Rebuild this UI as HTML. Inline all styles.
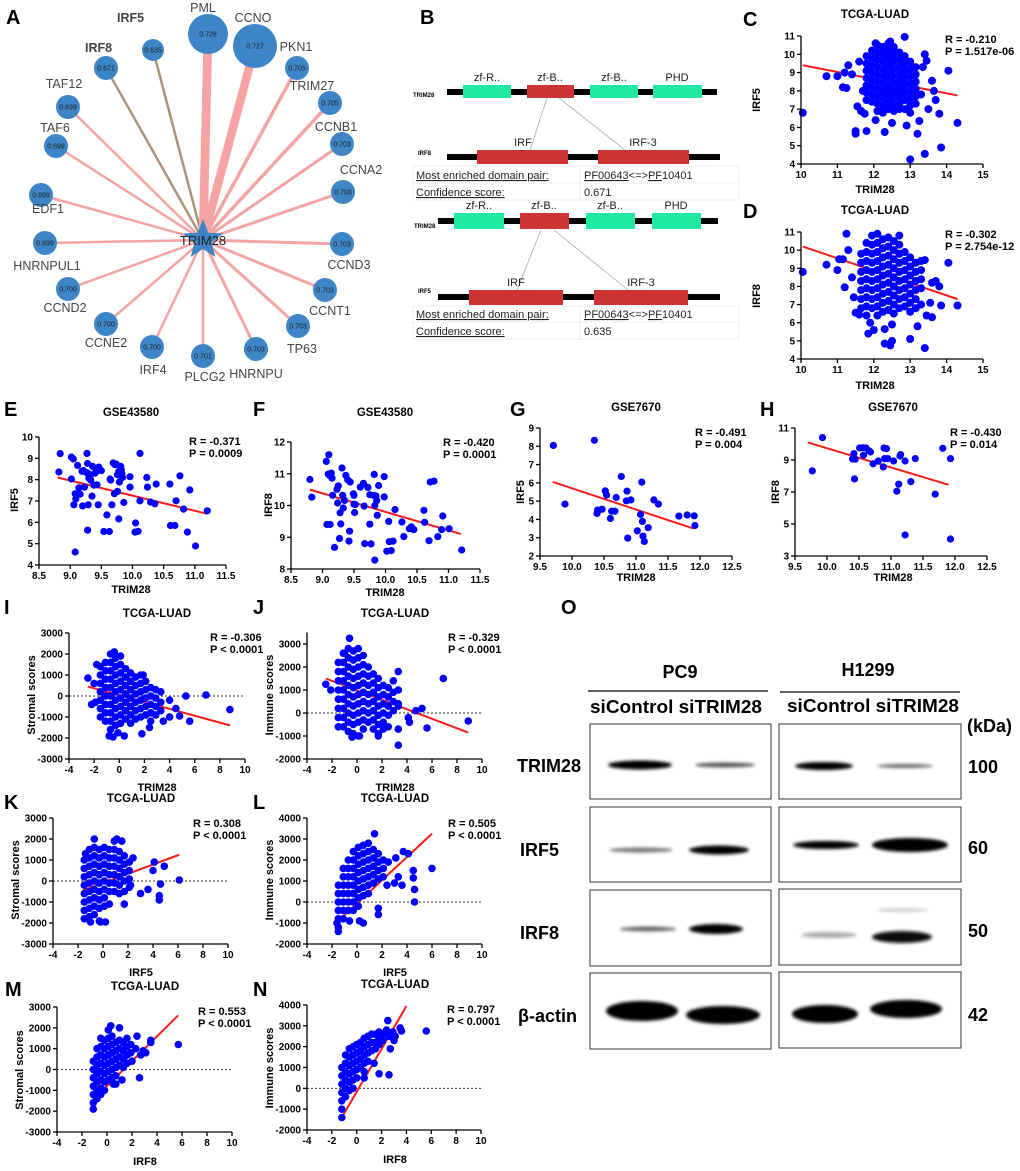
<!DOCTYPE html>
<html><head><meta charset="utf-8">
<style>
html,body{margin:0;padding:0;background:#fff;}
svg{display:block;font-family:"Liberation Sans",Arial,sans-serif;}
.pl{font-size:20px;font-weight:bold;}
.tk{font-size:10px;font-weight:bold;}
.tt{font-size:11.5px;font-weight:bold;}
.ax{font-size:11px;font-weight:bold;}
.st{font-size:11px;font-weight:bold;}
.nl{font-size:12.5px;fill:#444;}
.nv{font-size:7px;fill:#222;}
.dm{font-size:11px;fill:#222;}
.tb{font-size:11px;fill:#222;}
.wb{font-size:18px;font-weight:bold;}
</style></head>
<body>
<svg id="fig" width="1020" height="1171" viewBox="0 0 1020 1171">
<defs>
<filter id="blur" x="-20%" y="-100%" width="140%" height="300%"><feGaussianBlur stdDeviation="1.6"/></filter>
</defs>
<g>
<text class="pl" x="6" y="24">A</text><text class="pl" x="420" y="24">B</text>
<text class="pl" x="743" y="26">C</text><text class="pl" x="743" y="218">D</text>
<text class="pl" x="4" y="416">E</text><text class="pl" x="253" y="416">F</text>
<text class="pl" x="510" y="416">G</text><text class="pl" x="760" y="416">H</text>
<text class="pl" x="4" y="614">I</text><text class="pl" x="253" y="614">J</text>
<text class="pl" x="4" y="809">K</text><text class="pl" x="253" y="809">L</text>
<text class="pl" x="5" y="996">M</text><text class="pl" x="253" y="996">N</text>
<text class="pl" x="561" y="614">O</text>
</g>
<g id="netA"></g>
<g id="panelB">
 <rect x="447" y="89" width="270" height="6" fill="#000"/>
 <rect x="463" y="85" width="48" height="13" fill="#1fe8a0"/>
 <rect x="527" y="85" width="47" height="13" fill="#cc3333"/>
 <rect x="590" y="85" width="48" height="13" fill="#1fe8a0"/>
 <rect x="653" y="85" width="49" height="13" fill="#1fe8a0"/>
 <text class="dm" x="487" y="81" text-anchor="middle">zf-R..</text>
 <text class="dm" x="550" y="81" text-anchor="middle">zf-B..</text>
 <text class="dm" x="614" y="81" text-anchor="middle">zf-B..</text>
 <text class="dm" x="677" y="81" text-anchor="middle">PHD</text>
 <text x="413" y="97" font-size="6" font-weight="bold">TRIM28</text>
 <line x1="547" y1="98" x2="530" y2="150" stroke="#aaa" stroke-width="0.8"/>
 <line x1="559" y1="98" x2="625" y2="150" stroke="#aaa" stroke-width="0.8"/>
 <rect x="447" y="154" width="273" height="6" fill="#000"/>
 <rect x="477" y="150" width="91" height="14" fill="#cc3333"/>
 <rect x="598" y="150" width="91" height="14" fill="#cc3333"/>
 <text class="dm" x="523" y="146" text-anchor="middle" font-size="12">IRF</text>
 <text class="dm" x="643" y="146" text-anchor="middle" font-size="12">IRF-3</text>
 <text x="418" y="155" font-size="6" font-weight="bold">IRF8</text>
 <rect x="413" y="166" width="326" height="34" fill="none" stroke="#ddd" stroke-dasharray="1,1"/>
 <line x1="413" y1="183" x2="739" y2="183" stroke="#ddd" stroke-dasharray="1,1"/>
 <line x1="580" y1="166" x2="580" y2="200" stroke="#ddd" stroke-dasharray="1,1"/>
 <text class="tb" x="416" y="179" text-decoration="underline">Most enriched domain pair:</text>
 <text class="tb" x="584" y="179"><tspan text-decoration="underline">PF00643</tspan>&lt;=&gt;<tspan text-decoration="underline">PF</tspan>10401</text>
 <text class="tb" x="416" y="196" text-decoration="underline">Confidence score:</text>
 <text class="tb" x="584" y="196">0.671</text>
 <rect x="438" y="218" width="280" height="6" fill="#000"/>
 <rect x="454" y="213" width="50" height="16" fill="#1fe8a0"/>
 <rect x="520" y="213" width="49" height="16" fill="#cc3333"/>
 <rect x="586" y="213" width="49" height="16" fill="#1fe8a0"/>
 <rect x="652" y="213" width="49" height="16" fill="#1fe8a0"/>
 <text class="dm" x="479" y="209" text-anchor="middle" font-size="12">zf-R..</text>
 <text class="dm" x="544" y="209" text-anchor="middle" font-size="12">zf-B..</text>
 <text class="dm" x="610" y="209" text-anchor="middle" font-size="12">zf-B..</text>
 <text class="dm" x="676" y="209" text-anchor="middle" font-size="12">PHD</text>
 <text x="414" y="228" font-size="6" font-weight="bold">TRIM28</text>
 <line x1="541" y1="230" x2="517" y2="290" stroke="#aaa" stroke-width="0.8"/>
 <line x1="554" y1="230" x2="628" y2="290" stroke="#aaa" stroke-width="0.8"/>
 <rect x="438" y="294" width="282" height="6" fill="#000"/>
 <rect x="469" y="290" width="94" height="15" fill="#cc3333"/>
 <rect x="594" y="290" width="94" height="15" fill="#cc3333"/>
 <text class="dm" x="516" y="286" text-anchor="middle" font-size="13">IRF</text>
 <text class="dm" x="641" y="286" text-anchor="middle" font-size="13">IRF-3</text>
 <text x="418" y="293" font-size="6" font-weight="bold">IRF5</text>
 <rect x="413" y="306" width="326" height="33" fill="none" stroke="#ddd" stroke-dasharray="1,1"/>
 <line x1="413" y1="322" x2="739" y2="322" stroke="#ddd" stroke-dasharray="1,1"/>
 <line x1="580" y1="306" x2="580" y2="339" stroke="#ddd" stroke-dasharray="1,1"/>
 <text class="tb" x="416" y="318" text-decoration="underline">Most enriched domain pair:</text>
 <text class="tb" x="584" y="318"><tspan text-decoration="underline">PF00643</tspan>&lt;=&gt;<tspan text-decoration="underline">PF</tspan>10401</text>
 <text class="tb" x="416" y="335" text-decoration="underline">Confidence score:</text>
 <text class="tb" x="584" y="335">0.635</text>
</g>
<g id="plots"></g>
<g id="blotO">
 <text class="wb" x="680" y="678" text-anchor="middle" font-size="19">PC9</text>
 <text class="wb" x="868" y="676" text-anchor="middle" font-size="19">H1299</text>
 <line x1="588" y1="691" x2="768" y2="691" stroke="#000" stroke-width="1.2"/>
 <line x1="780" y1="692" x2="960" y2="692" stroke="#000" stroke-width="1.2"/>
 <text class="wb" x="590" y="713" textLength="172" lengthAdjust="spacingAndGlyphs">siControl siTRIM28</text>
 <text class="wb" x="787" y="712" textLength="172" lengthAdjust="spacingAndGlyphs">siControl siTRIM28</text>
 <text class="wb" x="967" y="732">(kDa)</text>
 <text class="wb" x="517" y="772">TRIM28</text>
 <text class="wb" x="520" y="856">IRF5</text>
 <text class="wb" x="520" y="939">IRF8</text>
 <text class="wb" x="518" y="1022">β-actin</text>
 <text class="wb" x="968" y="773">100</text>
 <text class="wb" x="968" y="854">60</text>
 <text class="wb" x="968" y="937">50</text>
 <text class="wb" x="968" y="1021">42</text>
 <g fill="none" stroke="#333" stroke-width="1">
  <rect x="590" y="724" width="181" height="75"/><rect x="779" y="724" width="182" height="75"/>
  <rect x="590" y="807" width="181" height="75"/><rect x="779" y="807" width="182" height="75"/>
  <rect x="590" y="890" width="181" height="76"/><rect x="779" y="889" width="182" height="76"/>
  <rect x="590" y="973" width="181" height="76"/><rect x="779" y="972" width="182" height="76"/>
 </g>
 <g filter="url(#blur)">
  <ellipse cx="640" cy="765" rx="32" ry="4.5" fill="#000"/>
  <ellipse cx="725" cy="765" rx="30" ry="2.5" fill="#555"/>
  <ellipse cx="824" cy="766" rx="29" ry="4" fill="#000"/>
  <ellipse cx="905" cy="766" rx="28" ry="2" fill="#666"/>
  <ellipse cx="641" cy="850" rx="32" ry="2.5" fill="#777"/>
  <ellipse cx="719" cy="850" rx="30" ry="4.5" fill="#000"/>
  <ellipse cx="826" cy="845" rx="33" ry="4" fill="#000"/>
  <ellipse cx="910" cy="845" rx="38" ry="7" fill="#000"/>
  <ellipse cx="648" cy="929" rx="28" ry="2.5" fill="#666"/>
  <ellipse cx="716" cy="929" rx="27" ry="5" fill="#000"/>
  <ellipse cx="829" cy="935" rx="28" ry="3" fill="#aaa"/>
  <ellipse cx="902" cy="937" rx="30" ry="6" fill="#111"/>
  <ellipse cx="902" cy="910" rx="26" ry="2" fill="#ccc"/>
  <ellipse cx="642" cy="1011" rx="36" ry="10" fill="#000"/>
  <ellipse cx="723" cy="1015" rx="37" ry="9" fill="#000"/>
  <ellipse cx="825" cy="1014" rx="33" ry="9" fill="#000"/>
  <ellipse cx="906" cy="1009" rx="36" ry="9" fill="#000"/>
 </g>
</g>
</svg>
<script>
const aNames=["IRF5","IRF8","PML","CCNO","PKN1","TRIM27","CCNB1","CCNA2","CCND3","CCNT1","TP63","HNRNPU","PLCG2","IRF4","CCNE2","CCND2","HNRNPUL1","EDF1","TAF6","TAF12"];
const aScores=[0.635,0.671,0.728,0.727,0.705,0.705,0.703,0.703,0.703,0.703,0.703,0.703,0.701,0.700,0.700,0.700,0.699,0.699,0.699,0.699];

const cPts=[[10.05,6.8],[10.7,8.8],[11.0,8.8],[11.15,8.2],[11.25,8.15],[11.2,9.0],[11.5,5.8],[11.5,5.65],[11.55,7.15],[11.8,5.8],[12.05,6.4],[12.3,5.75],[12.5,6.25],[12.85,10.95],[12.9,6.1],[13.0,4.25],[13.2,5.65],[13.25,6.35],[13.4,4.55],[13.85,4.9],[13.8,6.75],[14.05,9.1],[14.3,6.25],[13.7,7.5],[13.6,8.55],[13.65,8.0],[13.4,10.0],[13.45,9.65],[13.35,9.3],[13.5,7.0],[13.3,7.8],[11.3,9.4],[11.4,8.9],[11.6,9.6],[11.7,8.0],[11.65,6.9],[11.75,6.75],[12.05,10.6],[12.45,10.7]];
const cCols=[[11.8,[9.9,9.5,9.1,8.7,8.3,7.9,7.5]],[11.95,[10.2,9.8,9.4,9.0,8.6,8.2,7.8,7.4]],[12.1,[10.5,10.1,9.7,9.3,8.9,8.5,8.1,7.7,7.3,6.9]],[12.25,[10.4,10.0,9.6,9.2,8.8,8.4,8.0,7.6,7.2,6.8]],[12.4,[10.6,10.2,9.8,9.4,9.0,8.6,8.2,7.8,7.4,7.0]],[12.55,[10.4,10.0,9.6,9.2,8.8,8.4,8.0,7.6,7.2,6.9]],[12.7,[10.1,9.7,9.3,8.9,8.5,8.1,7.7,7.3,7.0]],[12.85,[9.9,9.5,9.1,8.7,8.3,7.9,7.5,7.0]],[13.0,[9.6,9.2,8.8,8.4,8.0,7.6,7.2,6.8]],[13.15,[9.3,8.9,8.5,8.1,7.7,7.3]]];
const dPts=[[10.05,8.8],[10.7,9.2],[11.0,8.9],[11.05,9.5],[11.15,9.5],[11.2,7.95],[11.25,10.9],[11.3,10.0],[11.4,8.5],[11.45,7.4],[11.5,6.55],[11.6,6.45],[11.85,5.4],[11.9,6.0],[12.0,5.6],[12.3,5.65],[12.3,4.85],[12.45,4.75],[12.5,5.0],[12.5,5.9],[13.0,5.1],[13.2,5.8],[13.4,4.6],[13.45,6.4],[13.6,6.3],[13.55,7.1],[13.6,8.2],[13.7,8.3],[13.8,8.0],[13.85,6.95],[14.05,9.3],[14.3,6.95],[13.4,9.45]];
const dCols=[[11.65,[9.8,9.3,8.8,8.3,7.8,7.3,6.8]],[11.8,[10.4,9.9,9.4,8.9,8.4,7.9,7.4,6.9,6.4]],[11.95,[10.8,10.3,9.8,9.3,8.8,8.3,7.8,7.3,6.8]],[12.1,[10.9,10.4,9.9,9.4,8.9,8.4,7.9,7.4,6.9,6.4]],[12.25,[10.6,10.1,9.6,9.1,8.6,8.1,7.6,7.1,6.6]],[12.4,[10.7,10.2,9.7,9.2,8.7,8.2,7.7,7.2,6.7]],[12.55,[10.5,10.0,9.5,9.0,8.5,8.0,7.5,7.0,6.5]],[12.7,[10.8,10.3,9.8,9.3,8.8,8.3,7.8,7.3,6.8]],[12.85,[9.9,9.4,8.9,8.4,7.9,7.4,6.9]],[13.0,[9.6,9.1,8.6,8.1,7.6,7.1,6.6]],[13.15,[9.3,8.8,8.3,7.8,7.3,6.8]],[13.3,[9.4,8.9,8.4,7.9,7.0]]];
const ePts=[[8.82,8.36],[8.84,9.22],[9.02,8.03],[9.02,9.06],[9.05,8.97],[9.06,6.82],[9.08,7.34],[9.08,4.61],[9.09,7.10],[9.12,8.67],[9.14,7.62],[9.16,7.32],[9.19,8.39],[9.20,6.77],[9.21,8.43],[9.23,7.65],[9.26,8.34],[9.27,9.23],[9.28,8.76],[9.28,5.63],[9.29,8.29],[9.29,6.82],[9.30,8.07],[9.33,8.23],[9.33,7.98],[9.35,7.23],[9.36,8.62],[9.38,7.74],[9.40,8.31],[9.42,8.39],[9.43,7.76],[9.45,6.82],[9.46,8.59],[9.47,8.46],[9.50,8.42],[9.54,5.57],[9.59,6.35],[9.63,5.57],[9.64,8.03],[9.65,7.98],[9.67,6.82],[9.69,8.78],[9.71,7.34],[9.72,8.70],[9.74,8.73],[9.76,7.45],[9.76,8.23],[9.78,6.16],[9.78,8.39],[9.79,7.89],[9.81,8.62],[9.82,8.46],[9.83,8.28],[9.84,8.10],[9.86,6.93],[9.96,7.65],[9.96,8.14],[10.04,5.54],[10.05,5.97],[10.09,5.58],[10.12,7.01],[10.12,9.23],[10.23,8.10],[10.24,7.65],[10.29,6.95],[10.36,6.87],[10.38,7.79],[10.60,7.79],[10.61,5.85],[10.68,5.85],[10.70,7.01],[10.76,8.18],[10.82,6.62],[10.88,5.54],[10.92,7.52],[11.01,4.89],[11.20,6.54]];
const fPts=[[8.80,10.82],[8.83,10.26],[9.06,11.39],[9.09,10.99],[9.07,9.40],[9.10,11.60],[9.11,10.95],[9.12,9.40],[9.14,11.02],[9.15,10.86],[9.16,10.32],[9.19,8.68],[9.23,10.51],[9.24,10.08],[9.25,10.62],[9.27,8.96],[9.28,9.77],[9.29,9.42],[9.31,11.18],[9.32,10.32],[9.33,9.92],[9.35,10.16],[9.37,10.95],[9.40,10.81],[9.42,8.88],[9.43,9.19],[9.44,10.74],[9.49,10.37],[9.50,10.32],[9.50,10.04],[9.51,9.78],[9.52,10.03],[9.60,10.58],[9.65,10.70],[9.66,9.98],[9.67,8.80],[9.72,10.57],[9.75,9.41],[9.75,10.34],[9.77,8.79],[9.81,10.32],[9.82,10.98],[9.83,10.00],[9.85,10.30],[9.86,10.15],[9.87,9.69],[9.89,10.63],[9.98,10.91],[9.98,10.27],[10.05,9.50],[10.06,8.86],[10.12,8.88],[10.15,9.87],[10.26,9.48],[10.29,9.02],[10.38,9.27],[10.41,9.33],[10.45,9.24],[10.61,9.85],[10.62,9.47],[10.69,8.89],[10.71,10.74],[10.77,10.77],[10.83,9.02],[10.89,9.24],[10.91,9.67],[11.01,9.27],[11.21,8.60],[9.83,8.28],[10.02,8.56],[10.09,8.58]];
const gPts=[[9.71,8.05],[9.89,4.84],[10.35,8.33],[10.39,4.33],[10.40,4.51],[10.47,4.56],[10.60,4.05],[10.62,4.45],[10.67,4.45],[10.69,5.20],[10.77,6.35],[10.85,5.02],[10.86,5.55],[10.87,2.98],[10.92,5.07],[11.02,3.38],[11.07,4.27],[11.10,3.89],[11.11,3.09],[11.13,2.80],[11.19,3.55],[11.28,5.07],[11.35,4.84],[11.67,4.18],[11.80,4.24],[11.91,4.20],[11.92,3.67],[10.52,5.56],[10.54,5.33],[11.09,6.04],[10.41,4.47]];
const hPts=[[9.77,8.32],[9.93,10.40],[10.40,9.07],[10.42,9.40],[10.43,7.82],[10.44,9.05],[10.51,9.75],[10.56,9.77],[10.57,9.30],[10.61,9.75],[10.66,9.57],[10.68,9.50],[10.72,8.76],[10.80,8.94],[10.88,8.57],[10.89,9.75],[10.90,9.09],[10.93,9.71],[10.95,9.09],[11.04,8.94],[11.09,7.05],[11.12,7.49],[11.14,9.25],[11.15,9.34],[11.22,8.94],[11.22,4.31],[11.31,7.65],[11.38,9.09],[11.69,6.86],[11.81,9.73],[11.93,9.09],[11.93,4.06]];
const iCols=[[-1.5,[1400,1000,600,200,-200,-600,-1000]],[-1.1,[1600,1200,800,400,0,-400,-800,-1200]],[-0.7,[2000,1600,1200,800,400,0,-400,-800,-1200,-1600]],[-0.3,[1800,1400,1000,600,200,-200,-600,-1000,-1400]],[0.1,[1900,1500,1100,700,300,-100,-500,-900,-1300]],[0.5,[1300,900,500,100,-300,-700,-1100]],[0.9,[1100,700,300,-100,-500,-900,-1300]],[1.3,[900,500,100,-300,-700,-1100]],[1.7,[1000,600,200,-200,-600,-1000]],[2.1,[700,300,-100,-500,-900]],[2.5,[400,0,-400,-800,-1200]],[2.9,[300,-100,-500,-900]],[3.3,[200,-300,-700]]];
const iPts=[[-2.5,850],[-2.2,-400],[-1.9,-300],[-2.0,600],[-1.8,1500],[-0.8,-1900],[-0.5,-1950],[0.4,-1900],[-0.1,-1750],[1.8,-1800],[2.4,-1500],[3.5,-1200],[4.0,-200],[4.0,-1000],[4.5,-600],[4.8,-950],[5.3,0],[5.6,-1200],[6.9,50],[8.8,-650],[1.9,1000],[-0.4,2100]];
const jCols=[[-1.5,[2200,1800,1400,1000,600,200,-200,-600]],[-1.1,[2600,2200,1800,1400,1000,600,200,-200,-600]],[-0.7,[2800,2400,2000,1600,1200,800,400,0,-400,-800]],[-0.3,[2700,2300,1900,1500,1100,700,300,-100,-500,-900]],[0.1,[2800,2400,2000,1600,1200,800,400,0,-400,-1000]],[0.5,[2500,2100,1700,1300,900,500,100,-300,-700]],[0.9,[2000,1600,1200,800,400,0,-400]],[1.3,[1700,1300,900,500,100,-300,-700]],[1.7,[1500,1100,700,300,-100,-500,-900]],[2.1,[1200,800,400,0,-400,-700]],[2.5,[1100,700,300,-100,-600]],[2.9,[1400,900,500,100]],[3.3,[1800,1000,400,300,-700]]];
const jPts=[[-2.5,1250],[-2.1,1000],[-0.6,3250],[-1.0,2600],[3.3,-1400],[4.1,-200],[4.2,-400],[4.7,100],[5.2,200],[5.6,-650],[6.9,1500],[8.9,-350],[-0.4,-1050],[0.2,-1000],[1.7,-1000]];
const kCols=[[-1.5,[1000,600,200,-200,-600,-1000,-1400,-1800]],[-1.1,[1500,1100,700,300,-100,-500,-900,-1300,-1700]],[-0.7,[2000,1600,1200,800,400,0,-400,-800,-1200,-1600]],[-0.3,[1500,1100,700,300,-100,-500,-900,-1300,-1900]],[0.1,[1600,1200,800,400,0,-400,-800,-1200]],[0.5,[1500,1100,700,300,-100,-500,-1100]],[0.9,[1900,1500,1100,700,300,-100,-500]],[1.3,[1400,1000,600,200,-200,-600]],[1.7,[1200,800,400,0,-500,-1100]],[2.1,[900,500,100,-300]]];
const kPts=[[-1.0,-1950],[-0.2,-1950],[0.2,-1950],[2.4,1100],[2.2,-200],[3.0,-600],[3.6,-400],[4.1,900],[4.5,-700],[4.5,-900],[4.6,-150],[4.9,700],[6.1,50],[4.0,500],[1.1,2000],[1.5,1900],[-1.4,1300]];
const lCols=[[-1.5,[800,400,0,-400,-800,-1200]],[-1.1,[1600,1200,800,400,0,-400,-800]],[-0.7,[2000,1600,1200,800,400,0,-400]],[-0.3,[2400,2000,1600,1200,800,400,0,-400]],[0.1,[2600,2200,1800,1400,1000,600,200,-200]],[0.5,[2700,2300,1900,1500,1100,700,300]],[0.9,[2800,2400,2000,1600,1200,800,400]],[1.3,[2500,2100,1700,1300,900]],[1.7,[2300,1900,1500,1100,-300,-600]],[2.1,[2000,1600,1200]]];
const lPts=[[-1.5,-1400],[-1.6,-1000],[-0.6,-900],[0.2,-900],[0.5,-1000],[1.4,3250],[2.5,1900],[3.0,900],[3.1,2100],[3.3,1200],[3.6,800],[3.7,2400],[4.1,2300],[4.5,1500],[4.5,1150],[4.6,600],[4.6,0],[6.0,1600],[2.4,800]];
const mCols=[[-1.1,[400,0,-400,-800,-1200,-1600,-1900]],[-0.8,[1000,600,200,-200,-600,-1000,-1400]],[-0.5,[1500,1100,700,300,-100,-500,-900,-1200]],[-0.2,[1400,1000,600,200,-200,-600,-1000]],[0.1,[1900,1500,1100,700,300,-100,-500]],[0.4,[1600,1200,800,400,0,-400]],[0.7,[1300,900,500,100,-300,-700]],[1.0,[2000,1400,1000,600,200]],[1.3,[1300,900,500,100]],[1.6,[1500,1100,700,300]],[1.9,[1200,800]]];
const mPts=[[2.4,1600],[2.3,1000],[2.7,700],[2.9,900],[3.1,800],[3.5,1300],[3.5,1400],[2.6,-400],[5.7,1200],[0.5,-700],[1.2,-500],[0.3,2100],[2.0,400]];
const nCols=[[-1.2,[1000,600,200,-200,-600,-1000,-1400]],[-0.9,[1600,1200,800,400,0,-400]],[-0.6,[1900,1500,1100,700,300,-100]],[-0.3,[2000,1600,1200,800,400,0]],[0.0,[2100,1700,1300,900,500]],[0.3,[2200,1800,1400,1000]],[0.6,[2400,2000,1600,1200,800]],[0.9,[2500,2100,1700,1300]],[1.2,[2600,2200,1800]],[1.5,[2600,2200,1900]],[1.8,[2700,2400,2100]],[2.1,[2600,2300]]];
const nPts=[[2.5,3250],[2.4,2800],[2.6,2500],[2.9,2700],[3.0,2300],[3.5,2900],[3.6,2750],[3.1,2500],[2.7,1900],[2.6,650],[1.8,700],[1.4,1200],[0.6,500],[5.6,2750]];
const cFit=[[10.05,9.4],[14.3,7.75]], dFit=[[10.05,10.2],[14.3,7.3]];
const eFit=[[8.8,8.1],[11.2,6.4]], fFit=[[8.8,10.5],[11.2,9.1]];
const gFit=[[9.7,6.05],[11.9,3.5]], hFit=[[9.7,10.1],[11.9,7.45]];
const iFit=[[-2.5,450],[8.8,-1400]], jFit=[[-2.5,1500],[8.9,-850]];
const kFit=[[-1.6,-450],[6.1,1250]], lFit=[[-1.5,-900],[6.0,3250]];
const mFit=[[-1.2,-1500],[5.7,2600]], nFit=[[-1.3,-1500],[4.0,3950]];
const tkC_x=[10,11,12,13,14,15], tkC_y=[4,5,6,7,8,9,10,11];
const tkE_x=[8.5,9.0,9.5,10.0,10.5,11.0,11.5], tkE_y=[4,5,6,7,8,9,10], tkF_y=[8,9,10,11,12];
const tkG_x=[9.5,10.0,10.5,11.0,11.5,12.0,12.5], tkG_y=[2,3,4,5,6,7,8,9], tkH_y=[3,5,7,9,11];
const tkI_x=[-4,-2,0,2,4,6,8,10], tkS_y=[-3000,-2000,-1000,0,1000,2000,3000];
const tkJ_y=[-2000,-1000,0,1000,2000,3000], tkL_y=[-2000,-1000,0,1000,2000,3000,4000];
const statsR=["-0.210","-0.302","-0.371","-0.420","-0.491","-0.430","-0.306","-0.329","0.308","0.505","0.553","0.797"];
const statsP=["= 1.517e-06","= 2.754e-12","= 0.0009","= 0.0001","= 0.004","= 0.014","< 0.0001","< 0.0001","< 0.0001","< 0.0001","< 0.0001","< 0.0001"];

const NS="http://www.w3.org/2000/svg";
function el(tag,attrs,parent,txt){const e=document.createElementNS(NS,tag);for(const k in attrs)e.setAttribute(k,attrs[k]);if(txt!==undefined)e.textContent=txt;parent.appendChild(e);return e;}
function lin(d0,d1,p0,p1){return v=>p0+(v-d0)*(p1-p0)/(d1-d0);}
function expand(cols){const o=[];cols.forEach(c=>c[1].forEach(y=>o.push([c[0],y])));return o;}

(function(){
 const g=document.getElementById('netA');
 const cx=203, cy=240;
 const pos=[[153,50,11],[106,68,12],[208,34,20],[255,46,22],[297,68,12],[330,103,12],[342,144,12],[343,192,12],[342,244,12],[325,290,12],[298,326,12],[256,349,12],[203,356,12],[152,347,12],[106,324,12],[68,289,12],[45,243,12],[41,195,12],[56,146,12],[68,107,12]];
 const lab=[[117,22,'start'],[85,52,'start'],[203,12,'middle'],[253,22,'middle'],[296,51,'middle'],[312,90,'middle'],[336,131,'middle'],[361,174,'middle'],[349,269,'middle'],[330,315,'middle'],[302,353,'middle'],[256,378,'middle'],[205,381,'middle'],[153,374,'middle'],[106,347,'middle'],[65,312,'middle'],[47,270,'middle'],[48,213,'middle'],[55,132,'middle'],[64,88,'middle']];
 const widths=aScores.map((s,i)=>i<2?2.5:Math.max(2.5,(s-0.69)*230));
 aNames.forEach((n,i)=>{
  const l=el('line',{x1:cx,y1:cy,x2:pos[i][0],y2:pos[i][1],stroke:i<2?'#ac9479':'#f5a3a3','stroke-width':widths[i]},g);
  
  
 });
 aNames.forEach((n,i)=>{
  const c=el('circle',{cx:pos[i][0],cy:pos[i][1],r:pos[i][2],fill:'#3d85c6'},g);
  
  
  el('text',{x:pos[i][0],y:pos[i][1]+2.5,'text-anchor':'middle',class:'nv'},g,aScores[i].toFixed(3));
 });
 aNames.forEach((n,i)=>{
  const t=el('text',{x:lab[i][0],y:lab[i][1],'text-anchor':lab[i][2],class:'nl','font-weight':i<2?'bold':'normal','font-size':i<2?'14':'12.5',fill:i<2?'#333':'#444'},g,n);
  
  
 });
 const pts=[];for(let k=0;k<10;k++){const r=k%2?9:21;const a=-Math.PI/2+k*Math.PI/5;pts.push((cx+r*Math.cos(a)).toFixed(1)+','+(cy+r*Math.sin(a)).toFixed(1));}
 const s=el('polygon',{points:pts.join(' '),fill:'#3d85c6'},g);
 
 
 el('text',{x:cx,y:cy+5,'text-anchor':'middle','font-size':'13',fill:'#222'},g,'TRIM28');
})();

function plot(o){
 const root=document.getElementById('plots');
 const g=el('g',{},root);
 
 
 const X=lin(o.xd[0],o.xd[1],o.xp[0],o.xp[1]), Y=lin(o.yd[0],o.yd[1],o.yp[0],o.yp[1]);
 if(o.zero){const z=el('line',{x1:o.xp[0],x2:o.xp[1],y1:Y(0),y2:Y(0),stroke:'#333','stroke-dasharray':'2,2','stroke-width':1},g);
  }
 const fl=el('line',{x1:X(o.fit[0][0]),y1:Y(o.fit[0][1]),x2:X(o.fit[1][0]),y2:Y(o.fit[1][1]),stroke:'#ff1a1a','stroke-width':2},g);
 
 
 const pg=el('g',{fill:'#0000ff'},g);
 o.pts.forEach(p=>{const c=el('circle',{cx:X(p[0]).toFixed(1),cy:Y(p[1]).toFixed(1),r:o.r||3.6},pg);
  
  });
 const ax=el('g',{stroke:'#000','stroke-width':1.3,fill:'none'},g);
 
 el('line',{x1:o.xp[0],x2:o.xp[0],y1:o.yp[0],y2:o.yp[1]},ax);
 el('line',{x1:o.xp[0],x2:o.xp[1],y1:o.yp[0],y2:o.yp[0]},ax);
 o.xt.forEach(v=>{el('line',{x1:X(v),x2:X(v),y1:o.yp[0],y2:o.yp[0]+4},ax);
  const t=el('text',{x:X(v),y:o.yp[0]+14,'text-anchor':'middle',class:'tk'},g,o.xf?v.toFixed(1):String(v));
  });
 o.yt.forEach(v=>{el('line',{x1:o.xp[0]-4,x2:o.xp[0],y1:Y(v),y2:Y(v)},ax);
  const t=el('text',{x:o.xp[0]-6,y:Y(v)+3.5,'text-anchor':'end',class:'tk'},g,String(v));
  });
 const tt=el('text',{x:o.title[1],y:o.title[2],'text-anchor':'middle',class:'tt'},g,o.title[0]);
 
 const xl=el('text',{x:o.xl[1],y:o.xl[2],'text-anchor':'middle',class:'ax'},g,o.xl[0]);
 
 const yl=el('text',{x:0,y:0,'text-anchor':'middle',class:'ax',transform:'translate('+o.yl[1]+','+o.yl[2]+') rotate(-90)'},g,o.yl[0]);
 
 const s1=el('text',{x:o.st[0],y:o.st[1],class:'st'},g,'R = '+statsR[o.si]);
 
 const s2=el('text',{x:o.st[0],y:o.st[1]+12,class:'st'},g,'P '+statsP[o.si]);
 
}
plot({name:'scatter-c',xd:[10,15],xp:[801,983],yd:[4,11],yp:[164,36],xt:tkC_x,yt:tkC_y,r:4,pts:expand(cCols).concat(cPts),fit:cFit,title:['TCGA-LUAD',875,18],xl:['TRIM28',875,193],yl:['IRF5',760,100],st:[945,43],si:0});
plot({name:'scatter-d',xd:[10,15],xp:[801,983],yd:[4,11],yp:[359,232],xt:tkC_x,yt:tkC_y,r:4,pts:expand(dCols).concat(dPts),fit:dFit,title:['TCGA-LUAD',875,214],xl:['TRIM28',875,389],yl:['IRF8',760,296],st:[945,238],si:1});
plot({name:'scatter-e',xd:[8.5,11.5],xp:[39,226],yd:[4,10],yp:[565,437],xt:tkE_x,yt:tkE_y,xf:1,pts:ePts,fit:eFit,title:['GSE43580',131,416],xl:['TRIM28',131,593],yl:['IRF5',18,500],st:[189,445],si:2});
plot({name:'scatter-f',xd:[8.5,11.5],xp:[291,480],yd:[8,12],yp:[569,442],xt:tkE_x,yt:tkF_y,xf:1,pts:fPts,fit:fFit,title:['GSE43580',385,416],xl:['TRIM28',385,596],yl:['IRF8',272,505],st:[443,446],si:3});
plot({name:'scatter-g',xd:[9.5,12.5],xp:[540,732],yd:[2,9],yp:[556,428],xt:tkG_x,yt:tkG_y,xf:1,pts:gPts,fit:gFit,title:['GSE7670',636,411],xl:['TRIM28',636,581],yl:['IRF5',524,492],st:[695,436],si:4});
plot({name:'scatter-h',xd:[9.5,12.5],xp:[795,987],yd:[3,11],yp:[556,428],xt:tkG_x,yt:tkH_y,xf:1,pts:hPts,fit:hFit,title:['GSE7670',893,411],xl:['TRIM28',893,581],yl:['IRF8',779,492],st:[950,436],si:5});
plot({name:'scatter-i',xd:[-4,10],xp:[69,245],yd:[-3000,3000],yp:[759,633],xt:tkI_x,yt:tkS_y,zero:1,r:3.8,pts:expand(iCols).concat(iPts),fit:iFit,title:['TCGA-LUAD',157,617],xl:['TRIM28',157,791],yl:['Stromal scores',35,695],st:[210,641],si:6});
plot({name:'scatter-j',xd:[-4,10],xp:[307,482],yd:[-2000,3500],yp:[759,632.5],xt:tkI_x,yt:tkJ_y,zero:1,r:3.8,pts:expand(jCols).concat(jPts),fit:jFit,title:['TCGA-LUAD',395,617],xl:['TRIM28',395,791],yl:['Immune scores',273,695],st:[448,641],si:7});
plot({name:'scatter-k',xd:[-4,10],xp:[53,228],yd:[-3000,3000],yp:[944,818],xt:tkI_x,yt:tkS_y,zero:1,r:3.8,pts:expand(kCols).concat(kPts),fit:kFit,title:['TCGA-LUAD',141,802],xl:['IRF5',141,976],yl:['Stromal scores',19,880],st:[193,827],si:8});
plot({name:'scatter-l',xd:[-4,10],xp:[307,482],yd:[-2000,4000],yp:[944,818],xt:tkI_x,yt:tkL_y,zero:1,r:3.8,pts:expand(lCols).concat(lPts),fit:lFit,title:['TCGA-LUAD',395,802],xl:['IRF5',395,976],yl:['Immune scores',273,880],st:[448,827],si:9});
plot({name:'scatter-m',xd:[-4,10],xp:[57,232],yd:[-3000,3000],yp:[1132,1007],xt:tkI_x,yt:tkS_y,zero:1,r:3.8,pts:expand(mCols).concat(mPts),fit:mFit,title:['TCGA-LUAD',145,990],xl:['IRF8',145,1165],yl:['Stromal scores',23,1070],st:[198,1015],si:10});
plot({name:'scatter-n',xd:[-4,10],xp:[307,481],yd:[-2000,4000],yp:[1130,1005],xt:tkI_x,yt:tkL_y,zero:1,r:3.8,pts:expand(nCols).concat(nPts),fit:nFit,title:['TCGA-LUAD',395,988],xl:['IRF8',395,1163],yl:['Immune scores',273,1068],st:[447,1013],si:11});
</script>
</body></html>
